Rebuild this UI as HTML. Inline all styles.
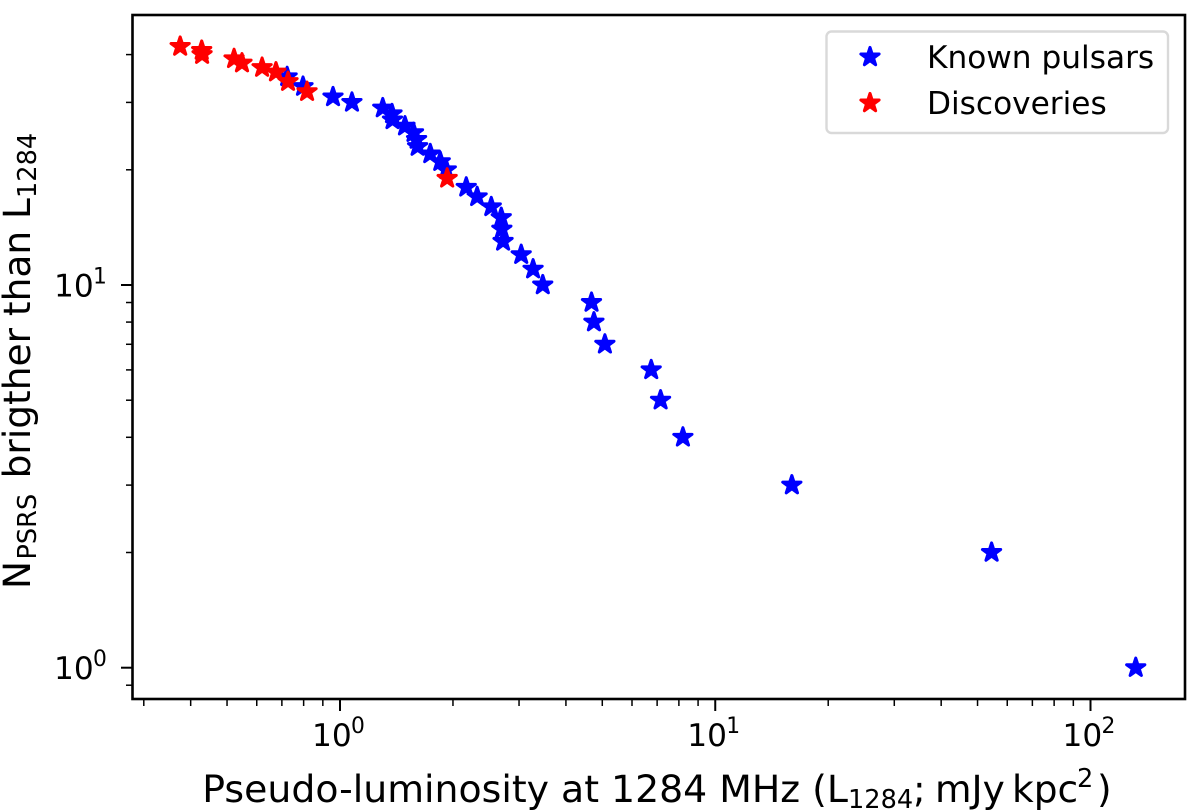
<!DOCTYPE html>
<html lang="en">
<head>
<meta charset="utf-8">
<title>Pulsar pseudo-luminosity distribution</title>
<style>
  html, body { margin: 0; padding: 0; background: #fff; }
  svg { display: block; }
  text { font-family: "DejaVu Sans", "Liberation Sans", sans-serif; fill: #000; }
</style>
</head>
<body>
<svg id="chart" xmlns="http://www.w3.org/2000/svg" width="1200" height="810" viewBox="0 0 1200 810">
  <rect x="0" y="0" width="1200" height="810" fill="#fff"/>
  <g id="marks"></g>
  <g id="ticks"></g>
  <rect x="132.5" y="15" width="1052.5" height="684" fill="none" stroke="#000" stroke-width="2.6"/>
  <g id="tick-labels"></g>
  <text x="202.3" y="802" font-size="37.8">Pseudo-luminosity at 1284 MHz (L<tspan font-size="25.6" x="848" dy="6">1284</tspan><tspan font-size="37.5" x="913" dy="-6">;</tspan><tspan font-size="37.5" x="935">mJy</tspan><tspan font-size="37.5" x="1012">kpc</tspan><tspan font-size="25.6" x="1077" dy="-15">2</tspan><tspan font-size="37.5" x="1097" dy="15">)</tspan></text>
  <text transform="translate(30,589) rotate(-90)" font-size="37.5">N<tspan font-size="25.6" x="29.5" dy="6">PSRS</tspan><tspan x="110.6" dy="-6">brigther than</tspan><tspan x="370">L</tspan><tspan font-size="25.6" x="391" dy="6">1284</tspan></text>
  <g>
    <rect x="826.5" y="31.5" width="341.5" height="101.5" rx="5" ry="5" fill="#fff" fill-opacity="0.8" stroke="#d9d9d9" stroke-width="2.4"/>
    <g id="legend-keys"></g>
    <text x="927" y="68" font-size="31.2">Known pulsars</text>
    <text x="927" y="114" font-size="31.2">Discoveries</text>
  </g>
</svg>
<script>
// Chart data
const knownLuminosity = [132, 54.5, 16.0, 8.2, 7.15, 6.75, 5.08, 4.75, 4.68, 3.47, 3.27, 3.04, 2.72, 2.70, 2.69, 2.53, 2.32, 2.17, 1.92, 1.85, 1.74, 1.61, 1.60, 1.57, 1.49, 1.38, 1.376, 1.30, 1.076, 0.958, 0.797, 0.723];
const knownCount = [1, 2, 3, 4, 5, 6, 7, 8, 9, 10, 11, 12, 13, 14, 15, 16, 17, 18, 20, 21, 22, 23, 24, 25, 26, 27, 28, 29, 30, 31, 33, 35];
const discoveryLuminosity = [1.93, 0.817, 0.727, 0.675, 0.62, 0.548, 0.522, 0.429, 0.428, 0.375];
const discoveryCount = [19, 32, 34, 36, 37, 38, 39, 40, 41, 42];
const xMajorTicks = [1, 10, 100];
const xMinorTicks = [0.3, 0.4, 0.5, 0.6, 0.7, 0.8, 0.9, 2, 3, 4, 5, 6, 7, 8, 9, 20, 30, 40, 50, 60, 70, 80, 90];
const yMajorTicks = [1, 10];
const yMinorTicks = [0.9, 2, 3, 4, 5, 6, 7, 8, 9, 20, 30, 40];
const xTickExponents = ['0', '1', '2'];
const yTickExponents = ['0', '1'];

const NS = 'http://www.w3.org/2000/svg';
function xScale(v) { return 340 + 375.25 * Math.log10(v); }
function yScale(v) { return 667.7 - 382.7 * Math.log10(v); }

function starPoints(cx, cy, r) {
  const pts = [];
  for (let i = 0; i < 10; i++) {
    const rad = i % 2 === 0 ? r : r * 0.382;
    const a = -Math.PI / 2 + i * Math.PI / 5;
    pts.push((cx + rad * Math.cos(a)).toFixed(2) + ',' + (cy + rad * Math.sin(a)).toFixed(2));
  }
  return pts.join(' ');
}
function makeStar(parent, cx, cy, color) {
  const s = document.createElementNS(NS, 'polygon');
  s.setAttribute('points', starPoints(cx, cy, 9.6));
  s.setAttribute('fill', color);
  s.setAttribute('stroke', color);
  s.setAttribute('stroke-width', '3');
  s.setAttribute('stroke-linejoin', 'round');
  parent.appendChild(s);
  return s;
}
function makeLine(parent, x1, y1, x2, y2, w) {
  const l = document.createElementNS(NS, 'line');
  l.setAttribute('x1', x1);
  l.setAttribute('y1', y1);
  l.setAttribute('x2', x2);
  l.setAttribute('y2', y2);
  l.setAttribute('stroke', '#000');
  l.setAttribute('stroke-width', w);
  parent.appendChild(l);
  return l;
}
function makeText(parent, x, y, size, str) {
  const t = document.createElementNS(NS, 'text');
  t.setAttribute('x', x);
  t.setAttribute('y', y);
  t.setAttribute('font-size', size);
  t.textContent = str;
  parent.appendChild(t);
  return t;
}

const marks = document.getElementById('marks');
knownLuminosity.forEach(function (v, i) {
  const s = makeStar(marks, xScale(v), yScale(knownCount[i]), '#0000ff');
  
  
});
discoveryLuminosity.forEach(function (v, i) {
  const s = makeStar(marks, xScale(v), yScale(discoveryCount[i]), '#ff0000');
  
  
});

const ticks = document.getElementById('ticks');
xMajorTicks.forEach(function (v) {
  const l = makeLine(ticks, xScale(v), 699, xScale(v), 711, 2);
  
  
});
xMinorTicks.forEach(function (v) {
  const l = makeLine(ticks, xScale(v), 699, xScale(v), 706, 1.5);
  
  
});
yMajorTicks.forEach(function (v) {
  const l = makeLine(ticks, 121, yScale(v), 132.5, yScale(v), 2);
  
  
});
yMinorTicks.forEach(function (v) {
  const l = makeLine(ticks, 126, yScale(v), 132.5, yScale(v), 1.5);
  
  
});

const labels = document.getElementById('tick-labels');
xMajorTicks.forEach(function (v, i) {
  const x = xScale(v) - 28;
  const base = makeText(labels, x, 746, 31.2, '10');
  
  
  const sup = makeText(labels, x + 39, 733, 21.8, xTickExponents[i]);
  
  
});
yMajorTicks.forEach(function (v, i) {
  const y = yScale(v) + 11.5;
  const base = makeText(labels, 54, y, 31.2, '10');
  
  
  const sup = makeText(labels, 93, y - 13, 21.8, yTickExponents[i]);
  
  
});

const keys = document.getElementById('legend-keys');
const keyKnown = makeStar(keys, 870, 57, '#0000ff');


const keyDisc = makeStar(keys, 870, 103, '#ff0000');


</script>
</body>
</html>
